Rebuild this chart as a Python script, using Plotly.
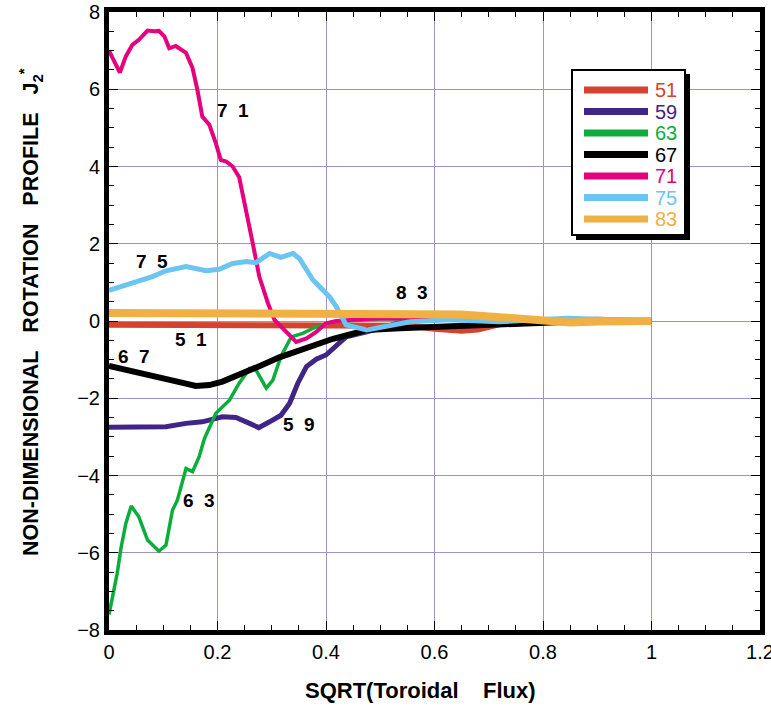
import plotly.graph_objects as go

# ---- data ----
x51 = [0.0, 0.1, 0.2, 0.3, 0.45, 0.55, 0.6, 0.65, 0.68, 0.73, 0.8, 0.9, 1.0]
y51 = [-0.1, -0.1, -0.1, -0.1, -0.1, -0.12, -0.2, -0.25, -0.22, -0.05, 0.0, 0.03, 0.0]

x59 = [0.0, 0.105, 0.142, 0.172, 0.209, 0.234, 0.259, 0.276, 0.296, 0.317, 0.333, 0.348,
       0.364, 0.382, 0.4, 0.419, 0.437, 0.475, 0.52, 0.56, 0.6, 0.7, 0.8, 0.9, 1.0]
y59 = [-2.75, -2.74, -2.65, -2.61, -2.48, -2.5, -2.65, -2.76, -2.61, -2.44, -2.13, -1.61,
       -1.18, -0.99, -0.88, -0.62, -0.41, -0.28, -0.1, 0.05, 0.08, 0.02, 0.0, 0.0, 0.0]

x63 = [0.0, 0.015, 0.022, 0.031, 0.041, 0.055, 0.071, 0.08, 0.092, 0.105, 0.117, 0.126,
       0.142, 0.154, 0.166, 0.176, 0.188, 0.197, 0.222, 0.24, 0.259, 0.271, 0.29, 0.302,
       0.317, 0.336, 0.357, 0.382, 0.413, 0.5, 0.6, 0.7, 0.8, 0.9, 1.0]
y63 = [-7.6, -6.54, -5.89, -5.24, -4.79, -5.07, -5.67, -5.8, -5.96, -5.8, -4.9, -4.64,
       -3.82, -3.9, -3.52, -3.04, -2.69, -2.39, -2.05, -1.61, -1.23, -1.27, -1.74, -1.53,
       -0.92, -0.41, -0.32, -0.15, -0.02, 0.05, 0.05, 0.02, 0.0, 0.0, 0.0]

x67 = [0.0, 0.043, 0.074, 0.105, 0.136, 0.16, 0.185, 0.209, 0.24, 0.277, 0.314, 0.351,
       0.388, 0.413, 0.425, 0.475, 0.536, 0.598, 0.659, 0.72, 0.78, 0.85, 0.9, 1.0]
y67 = [-1.16, -1.31, -1.42, -1.53, -1.6, -1.68, -1.66, -1.57, -1.4, -1.17, -0.94, -0.75,
       -0.58, -0.46, -0.42, -0.23, -0.19, -0.15, -0.12, -0.1, -0.06, -0.02, 0.0, 0.0]

x71 = [0.0, 0.02, 0.031, 0.043, 0.055, 0.071, 0.083, 0.092, 0.102, 0.111, 0.123, 0.133,
       0.142, 0.154, 0.163, 0.172, 0.185, 0.197, 0.206, 0.216, 0.228, 0.24, 0.253, 0.265,
       0.277, 0.283, 0.293, 0.305, 0.327, 0.345, 0.364, 0.382, 0.4, 0.419, 0.45, 0.5,
       0.6, 0.7, 0.8, 0.9, 1.0]
y71 = [7.0, 6.43, 6.85, 7.15, 7.28, 7.52, 7.5, 7.51, 7.37, 7.06, 7.12, 7.04,
       6.94, 6.55, 5.98, 5.29, 5.08, 4.6, 4.17, 4.13, 4.0, 3.72, 2.88, 2.01,
       1.15, 0.89, 0.46, 0.03, -0.28, -0.54, -0.45, -0.28, -0.06, 0.0, 0.03, 0.07,
       0.05, 0.02, 0.0, 0.0, 0.0]

x75 = [0.0, 0.031, 0.055, 0.08, 0.105, 0.142, 0.179, 0.203, 0.228, 0.253, 0.271, 0.296,
       0.317, 0.339, 0.351, 0.376, 0.388, 0.407, 0.419, 0.437, 0.475, 0.505, 0.555,
       0.628, 0.72, 0.844, 0.906, 1.0]
y75 = [0.79, 0.93, 1.02, 1.15, 1.3, 1.41, 1.3, 1.34, 1.49, 1.54, 1.51, 1.75,
       1.65, 1.75, 1.62, 1.06, 0.89, 0.62, 0.37, -0.1, -0.23, -0.15, -0.02,
       0.03, -0.02, 0.07, 0.03, 0.0]

x83 = [0.0, 0.2, 0.4, 0.6, 0.65, 0.72, 0.78, 0.85, 0.9, 1.0]
y83 = [0.21, 0.21, 0.21, 0.21, 0.17, 0.1, 0.03, -0.04, -0.01, 0.0]

names = ["51", "59", "63", "67", "71", "75", "83"]
colors = ["#d5432e", "#3f2585", "#0cad3b", "#000000", "#e6007e", "#6cc5f0", "#f0b044"]
widths = [6, 5, 3.5, 6, 4, 5, 8]
xs = [x51, x59, x63, x67, x71, x75, x83]
ys = [y51, y59, y63, y67, y71, y75, y83]

label_text = ["7 1", "7 5", "8 3", "5 1", "6 7", "5 9", "6 3"]
label_x = [0.229, 0.080, 0.558, 0.152, 0.046, 0.351, 0.166]
label_y = [5.44, 1.53, 0.75, -0.49, -0.91, -2.67, -4.64]

x_ticks = [0, 0.2, 0.4, 0.6, 0.8, 1, 1.2]
x_ticktext = ["0", "0.2", "0.4", "0.6", "0.8", "1", "1.2"]

FONT = "Liberation Sans, Arial, Helvetica, sans-serif"
GRID = "#a38fc9"

# plot area in pixels (for paper-coordinate decorations)
L, R, T, B = 109, 760, 12, 630
def px(xp):
    return (xp - L) / (R - L)
def py(yp):
    return (B - yp) / (B - T)

fig = go.Figure()
for n, c, w, xx, yy in zip(names, colors, widths, xs, ys):
    fig.add_trace(go.Scatter(x=xx, y=yy, mode="lines", line=dict(color=c, width=w),
                             name=n, showlegend=False))

for t, lx, ly in zip(label_text, label_x, label_y):
    fig.add_annotation(x=lx, y=ly, text=t.replace(" ", "\u00a0\u00a0"), showarrow=False,
                       font=dict(family=FONT, size=19, color="black", weight="bold"))

# ---- manual legend box (drop shadow + white box + samples + coloured labels) ----
fig.add_shape(type="rect", xref="paper", yref="paper",
              x0=px(576), x1=px(690), y0=py(240), y1=py(74),
              fillcolor="black", line=dict(width=0), layer="above")
fig.add_shape(type="rect", xref="paper", yref="paper",
              x0=px(572), x1=px(685), y0=py(235), y1=py(70),
              fillcolor="white", line=dict(color="black", width=2), layer="above")
row_y = [90, 111.5, 133, 154.5, 176, 197.5, 219]
for n, c, ry in zip(names, colors, row_y):
    fig.add_shape(type="line", xref="paper", yref="paper",
                  x0=px(584), x1=px(648), y0=py(ry), y1=py(ry),
                  line=dict(color=c, width=7), layer="above")
    fig.add_annotation(xref="paper", yref="paper", x=px(653), y=py(ry), text=n,
                       xanchor="left", yanchor="middle", showarrow=False,
                       font=dict(family=FONT, size=20, color=c))

# y-axis title
fig.add_annotation(xref="paper", yref="paper", x=px(30), y=py(312), textangle=-90,
                   xanchor="center", yanchor="middle", showarrow=False,
                   text="NON-DIMENSIONAL\u00a0\u00a0\u00a0ROTATION\u00a0\u00a0\u00a0PROFILE\u00a0\u00a0\u00a0J<sub>2</sub><sup>*</sup>",
                   font=dict(family=FONT, size=21.5, color="black", weight="bold"))

# x-axis title
fig.add_annotation(xref="paper", yref="paper", x=px(420), y=py(690),
                   xanchor="center", yanchor="middle", showarrow=False,
                   text="SQRT(Toroidal\u00a0\u00a0\u00a0\u00a0Flux)",
                   font=dict(family=FONT, size=22, color="black", weight="bold"))

fig.update_layout(
    width=771, height=711,
    margin=dict(l=L, r=771 - R, t=T, b=711 - B),
    paper_bgcolor="white", plot_bgcolor="white",
    font=dict(family=FONT, size=20, color="black"),
    showlegend=False,
    xaxis=dict(range=[0, 1.2], tickmode="array", tickvals=x_ticks, ticktext=x_ticktext,
               showgrid=True, gridcolor=GRID, gridwidth=1, ticklabeloverflow="allow",
               zeroline=False, showline=True, linecolor="black", linewidth=5, mirror="ticks",
               ticks="inside", ticklen=9, tickwidth=1, tickcolor="black", automargin=False,
               tickfont=dict(size=20),
               minor=dict(dtick=0.05, tick0=0, ticks="inside", ticklen=5, tickcolor="black",
                          showgrid=False)),
    yaxis=dict(range=[-8, 8], dtick=2, tick0=0, showgrid=True, gridcolor=GRID, gridwidth=1,
               zeroline=False, showline=True, linecolor="black", linewidth=5, mirror="ticks",
               ticks="inside", ticklen=9, tickwidth=1, tickcolor="black", automargin=False,
               ticklabeloverflow="allow", tickfont=dict(size=20),
               minor=dict(dtick=0.5, ticks="inside", ticklen=5, tickcolor="black", showgrid=False)),
)

fig.write_html("out.html")
